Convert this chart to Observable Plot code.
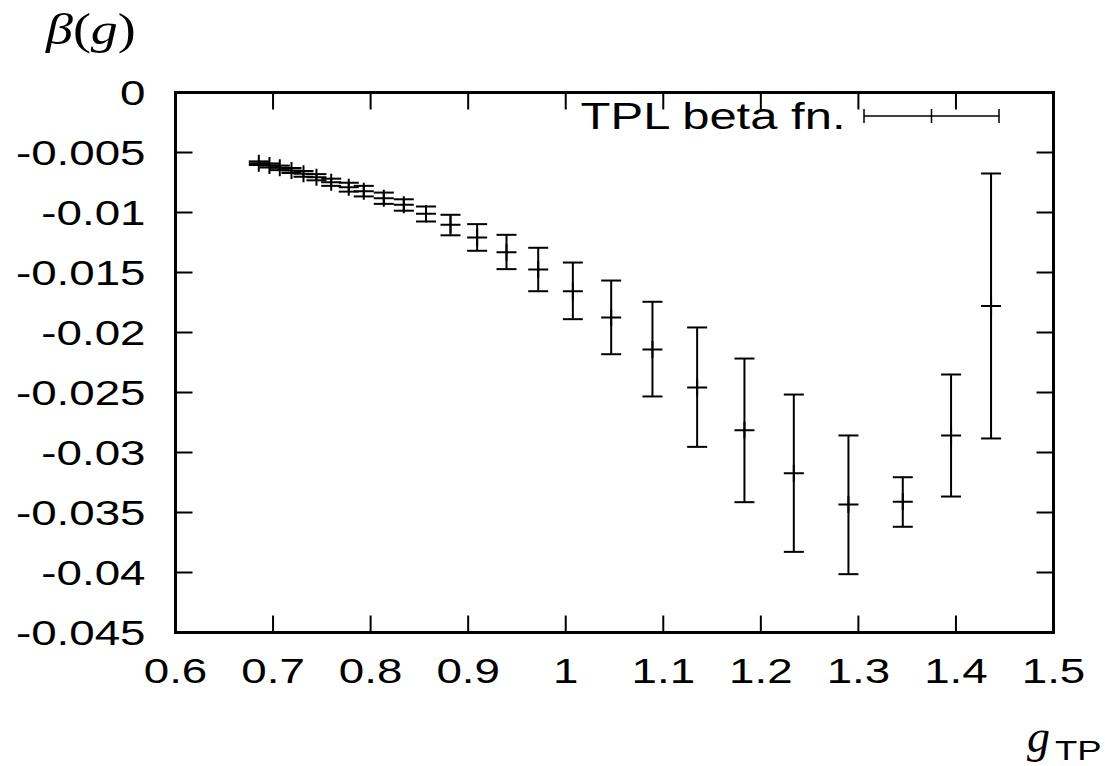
<!DOCTYPE html>
<html>
<head>
<meta charset="utf-8">
<script src="https://cdn.jsdelivr.net/npm/d3@7"></script>
<script src="https://cdn.jsdelivr.net/npm/@observablehq/plot@0.6"></script>
<style>
  html, body { margin: 0; padding: 0; background: #fff; }
  #chart svg { display: block; }
</style>
</head>
<body>
<div id="chart"></div>
<script>
// ---- data ----
const gValues = [0.6854, 0.6963, 0.7069, 0.7189, 0.7312, 0.7445, 0.7596, 0.7776, 0.7930, 0.8135,
                 0.8340, 0.8568, 0.8819, 0.9092, 0.9393, 0.9718, 1.0073, 1.0466, 1.0889, 1.1347,
                 1.1832, 1.2338, 1.2898, 1.3455, 1.3950, 1.4360];
const betaValues = [-0.00589, -0.00608, -0.00628, -0.00650, -0.00678, -0.00706, -0.00748, -0.00789, -0.00822, -0.00881,
                    -0.00936, -0.01011, -0.01103, -0.01208, -0.01331, -0.01475, -0.01656, -0.01875, -0.02142, -0.02458,
                    -0.02814, -0.03172, -0.03433, -0.03411, -0.02858, -0.01780];
const betaHigh = [-0.00574, -0.00591, -0.00609, -0.00629, -0.00654, -0.00680, -0.00718, -0.00752, -0.00778, -0.00834,
                  -0.00890, -0.00950, -0.01019, -0.01097, -0.01186, -0.01294, -0.01417, -0.01567, -0.01744, -0.01958,
                  -0.02217, -0.02517, -0.02858, -0.03206, -0.02350, -0.00675];
const betaLow = [-0.00604, -0.00625, -0.00647, -0.00671, -0.00702, -0.00732, -0.00778, -0.00826, -0.00866, -0.00928,
                 -0.00985, -0.01075, -0.01190, -0.01319, -0.01472, -0.01656, -0.01889, -0.02181, -0.02533, -0.02953,
                 -0.03414, -0.03828, -0.04014, -0.03619, -0.03367, -0.02883];
const xTicks = [0.6, 0.7, 0.8, 0.9, 1.0, 1.1, 1.2, 1.3, 1.4, 1.5];
const xTickLabels = ["0.6", "0.7", "0.8", "0.9", "1", "1.1", "1.2", "1.3", "1.4", "1.5"];
const yTicks = [0, -0.005, -0.01, -0.015, -0.02, -0.025, -0.03, -0.035, -0.04, -0.045];
const yTickLabels = ["0", "-0.005", "-0.01", "-0.015", "-0.02", "-0.025", "-0.03", "-0.035", "-0.04", "-0.045"];
const seriesName = "TPL beta fn.";

const data = gValues.map((g, i) => ({g, beta: betaValues[i], hi: betaHigh[i], lo: betaLow[i]}));
const xTickData = xTicks.map((v, i) => ({v, label: xTickLabels[i]}));
const yTickData = yTicks.map((v, i) => ({v, label: yTickLabels[i]}));

// ---- custom line symbols ----
const rad = s => Math.sqrt(s / Math.PI);
const hline = {draw(c, s) { const r = rad(s); c.moveTo(-r, 0); c.lineTo(r, 0); }};
const plus = {draw(c, s) { const r = rad(s); c.moveTo(-r, 0); c.lineTo(r, 0); c.moveTo(0, -r * 0.85); c.lineTo(0, r * 0.85); }};
const tickUp = {draw(c, s) { const r = rad(s); c.moveTo(0, 0); c.lineTo(0, -r); }};
const tickDown = {draw(c, s) { const r = rad(s); c.moveTo(0, 0); c.lineTo(0, r); }};
const tickRight = {draw(c, s) { const r = rad(s); c.moveTo(0, 0); c.lineTo(r, 0); }};
const tickLeft = {draw(c, s) { const r = rad(s); c.moveTo(0, 0); c.lineTo(-r, 0); }};

const W = 1105, H = 766;
const FONT = "'Liberation Sans', Arial, Helvetica, sans-serif";
const TICK = 17;

const chart = Plot.plot({
  width: W,
  height: H,
  marginLeft: 175,
  marginRight: 52,
  marginTop: 92,
  marginBottom: 134,
  style: {fontFamily: FONT, background: "#fff", color: "#000", overflow: "visible"},
  x: {domain: [0.6, 1.5], axis: null},
  y: {domain: [-0.045, 0], axis: null},
  marks: [
    // tick marks (inward, mirrored)
    Plot.dot(xTickData.slice(1, -1), {x: "v", frameAnchor: "bottom", symbol: tickUp, r: TICK, stroke: "#000", strokeWidth: 2, fill: "none"}),
    Plot.dot(xTickData.slice(1, -1), {x: "v", frameAnchor: "top", symbol: tickDown, r: TICK, stroke: "#000", strokeWidth: 2, fill: "none"}),
    Plot.dot(yTickData.slice(0, -1), {y: "v", frameAnchor: "left", symbol: tickRight, r: TICK, stroke: "#000", strokeWidth: 2, fill: "none"}),
    Plot.dot(yTickData.slice(0, -1), {y: "v", frameAnchor: "right", symbol: tickLeft, r: TICK, stroke: "#000", strokeWidth: 2, fill: "none"}),
    // tick labels
    Plot.text(xTickData, {x: "v", text: "label", frameAnchor: "bottom", lineAnchor: "middle", dy: 39, fontSize: 36, fill: "#000", className: "stretch-mid"}),
    Plot.text(yTickData, {y: "v", text: "label", frameAnchor: "left", lineAnchor: "middle", dx: -30, dy: 1, textAnchor: "end", fontSize: 36, fill: "#000", className: "stretch-end"}),
    // error bars
    Plot.ruleX(data, {x: "g", y1: "lo", y2: "hi", stroke: "#000", strokeWidth: 2}),
    Plot.dot(data, {x: "g", y: "hi", symbol: hline, r: 10, stroke: "#000", strokeWidth: 2, fill: "none"}),
    Plot.dot(data, {x: "g", y: "lo", symbol: hline, r: 10, stroke: "#000", strokeWidth: 2, fill: "none"}),
    Plot.dot(data, {x: "g", y: "beta", symbol: plus, r: 10, stroke: "#000", strokeWidth: 2, fill: "none"}),
    // legend label
    Plot.text([seriesName], {frameAnchor: "top-right", lineAnchor: "middle", dx: -208, dy: 25, textAnchor: "end", fontSize: 36, fill: "#000", className: "stretch-legend"}),
    Plot.frame({stroke: "#000", strokeWidth: 3})
  ]
});

document.getElementById("chart").appendChild(chart);

(function decorate() {
  // horizontal stretch of text (the reference glyphs are wider than Helvetica)
  function stretch(el, k) {
    const xa = el.getAttribute("x");
    const x = xa && isFinite(+xa) ? +xa : 0;
    if (xa && isFinite(+xa)) el.removeAttribute("x");
    const t = el.getAttribute("transform") || "";
    el.setAttribute("transform", `${t} translate(${x},0) scale(${k},1)`);
  }
  d3.select(chart).selectAll(".stretch-mid text, .stretch-end text").each(function() { stretch(this, 1.27); });
  d3.select(chart).selectAll(".stretch-legend text").each(function() { stretch(this, 1.36); });

  // legend sample and axis titles
  const svg = d3.select(chart);
  const xr = chart.scale("x").range, yr = chart.scale("y").range;
  const frameRight = Math.max(...xr), frameTop = Math.min(...yr);
  const ly = frameTop + 24, lx1 = frameRight - 189, lx2 = frameRight - 54, lxm = (lx1 + lx2) / 2;
  const lg = svg.append("g").attr("stroke", "#000").attr("stroke-width", 1.5);
  lg.append("line").attr("x1", lx1).attr("x2", lx2).attr("y1", ly).attr("y2", ly);
  [lx1, lxm, lx2].forEach(x => lg.append("line").attr("x1", x).attr("x2", x).attr("y1", ly - 7).attr("y2", ly + 7));

  const serif = "'Liberation Serif', 'Times New Roman', serif";
  const yTitle = svg.append("text").attr("font-family", serif).attr("font-size", 45).attr("fill", "#000")
    .attr("text-anchor", "start")
    .attr("transform", "translate(46,44) scale(1.2,1)");
  yTitle.append("tspan").attr("font-style", "italic").text("β");
  yTitle.append("tspan").text("(");
  yTitle.append("tspan").attr("font-style", "italic").text("g");
  yTitle.append("tspan").text(")");

  const xTitle = svg.append("g").attr("transform", "translate(1027,752)").attr("text-anchor", "start");
  xTitle.append("text").attr("font-family", serif).attr("font-style", "italic").attr("font-size", 46).attr("fill", "#000").text("g");
  xTitle.append("text").attr("font-family", FONT).attr("font-size", 27).attr("fill", "#000")
    .attr("transform", "translate(28,8) scale(1.35,1)").text("TP");
})();
</script>
</body>
</html>
